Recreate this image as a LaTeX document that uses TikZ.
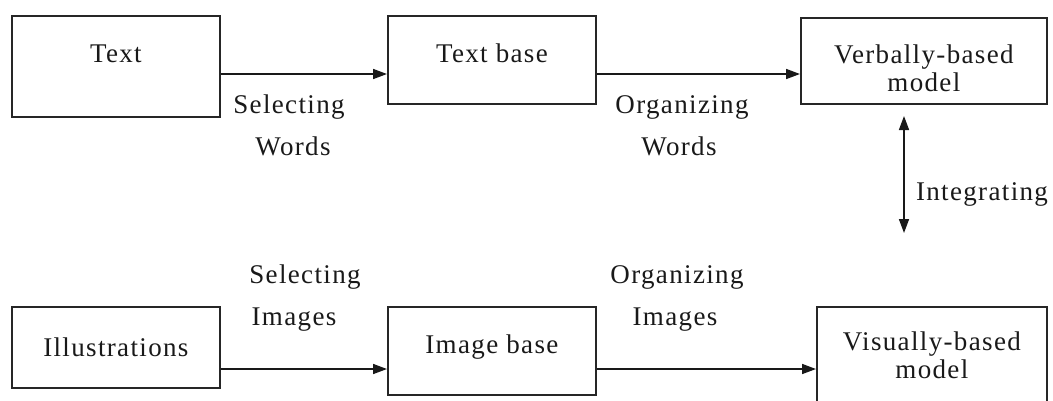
\documentclass[tikz,border=0pt]{standalone}
\usepackage{fontspec}
\setmainfont{Liberation Serif}[LetterSpace=5]
\usetikzlibrary{arrows.meta}
\begin{document}
\begin{tikzpicture}[x=1pt,y=-1pt,
  font=\fontsize{27}{28}\selectfont,
  box/.style={draw=black!85,line width=1.8pt,inner sep=0pt,rectangle,align=center,text=black!90},
  arr/.style={draw=black!90,line width=1.6pt,-{Triangle[length=14pt,width=10pt]}},
  darr/.style={draw=black!90,line width=1.6pt,{Triangle[length=14pt,width=10pt]}-{Triangle[length=14pt,width=10pt]}},
  lbl/.style={anchor=base,inner sep=0pt,text=black!90}]
\useasboundingbox (0,0) rectangle (1053,400);
% boxes
\node[box,minimum width=208pt,text height=47pt,text depth=54pt,anchor=north west] (t) at (11,15) {Text};
\node[box,minimum width=208pt,text height=47pt,text depth=41pt,anchor=north west] (tb) at (387,15) {Text base};
\node[box,minimum width=246pt,minimum height=86pt,anchor=north west] (vb) at (800,17) {};
\node[lbl] (vb1) at (vb.north |- 0,63) {Verbally-based};
\node[lbl] (vb2) at (vb.north |- 0,91) {model};
\node[box,minimum width=208pt,minimum height=81pt,anchor=north west] (il) at (11,306) {Illustrations};
\node[box,minimum width=208pt,text height=47pt,text depth=41pt,anchor=north west] (ib) at (387,306) {Image base};
\node[box,minimum width=230pt,minimum height=110pt,anchor=north west] (vi) at (816,306) {};
\node[lbl] (vi1) at (vi.north |- 0,350) {Visually-based};
\node[lbl] (vi2) at (vi.north |- 0,378) {model};
% rows
\coordinate (r1) at (0,74);
\coordinate (r2) at (0,369);
\coordinate (i1) at (904,116);
\coordinate (i2) at (904,233);
% connectors
\draw[arr] (t.east |- r1) -- (tb.west |- r1);
\draw[arr] (tb.east |- r1) -- (vb.west |- r1);
\draw[arr] (il.east |- r2) -- (ib.west |- r2);
\draw[arr] (ib.east |- r2) -- (vi.west |- r2);
\draw[darr] (i1) -- (i2);
% labels
\node[lbl] (s1) at (289,113) {Selecting};
\node[lbl] (w1) at (293,155) {Words};
\node[lbl] (o1) at (682,113) {Organizing};
\node[lbl] (w2) at (679,155) {Words};
\node[lbl] (ig) at (982,200) {Integrating};
\node[lbl] (s2) at (305,283) {Selecting};
\node[lbl] (m1) at (294,325) {Images};
\node[lbl] (o2) at (677,283) {Organizing};
\node[lbl] (m2) at (675,325) {Images};
\end{tikzpicture}
\end{document}
